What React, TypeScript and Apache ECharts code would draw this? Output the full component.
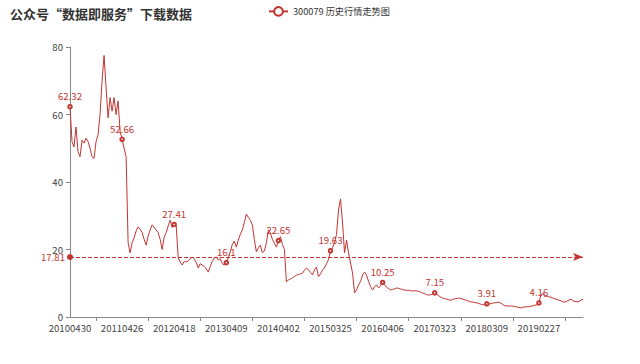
import React, { useEffect, useRef } from "react";
import * as echarts from "echarts";

const titleText = "公众号“数据即服务”下载数据";
const seriesName = "300079 历史行情走势图";
const tickLabels = [
  "20100430", "20110426", "20120418", "20130409", "20140402",
  "20150325", "20160406", "20170323", "20180309", "20190227",
];
const pointsPerLabel = 26;
const averageValue = 17.81;

const prices2010 = [62.32, 52, 50.4, 56.3, 49, 47.5, 52.4, 51.5, 53, 52, 50, 47.5, 47, 52, 54, 60, 70, 77.5, 68, 59, 65, 61, 65, 60, 64, 55];
const prices2011 = [52.66, 50, 47.5, 22, 19, 22, 23.5, 25.5, 26.7, 26, 25, 23, 21.3, 24, 25.8, 27.3, 26.5, 25.8, 25, 23, 20, 23.7, 25, 27, 28.7, 26.5];
const prices2012 = [27.41, 27, 17.5, 16.3, 15.4, 16.5, 16.3, 16.6, 17.2, 17.8, 17.2, 16.2, 14.5, 15.8, 15.4, 15, 14.2, 13.3, 15, 16.5, 17.5, 17.8, 16.9, 17.3, 15.8, 15.4];
const prices2013 = [16.1, 17.5, 19.3, 21.5, 22.5, 20.7, 22.8, 24.5, 25.8, 28, 30.5, 29.5, 28.7, 27.3, 23, 19.3, 20.5, 21.3, 19, 19.6, 22, 25.8, 24.9, 23, 21.9, 20.7];
const prices2014 = [22.65, 23.8, 21.5, 20, 10.4, 11, 11.3, 11.6, 12, 12.4, 12.6, 12.8, 13, 13.8, 14.5, 14, 13.2, 12.5, 14, 14.8, 12, 12.8, 13.9, 14.5, 15.8, 17];
const prices2015 = [19.63, 20.5, 22, 24.5, 31.7, 35, 27.9, 19, 22.8, 19, 16, 13, 7.2, 8, 9.5, 10.5, 12.5, 13.3, 12.4, 10.5, 9, 8, 9, 9.5, 8.6, 9.3];
const prices2016 = [10.25, 9.5, 8.8, 8.4, 8, 8.2, 8.3, 8.6, 8.5, 8.3, 8.1, 8, 7.9, 7.9, 7.8, 7.7, 7.8, 7.7, 7.6, 7.4, 7.1, 6.9, 6.6, 6.5, 6.6, 6.8];
const prices2017 = [7.15, 6.8, 6.3, 5.9, 5.6, 5.4, 5.3, 5.1, 5, 5.2, 5.4, 5.5, 5.6, 5.5, 5.3, 5.1, 4.9, 4.7, 4.5, 4.4, 4.3, 4.2, 4, 3.8, 3.6, 3.7];
const prices2018 = [3.91, 3.8, 4, 4.1, 4.2, 4.3, 4.4, 4.1, 3.7, 3.3, 3.3, 3.2, 3.3, 3.2, 3.1, 3, 2.8, 2.7, 2.9, 3, 3, 3.1, 3.2, 3.3, 3.5, 3.6];
const prices2019 = [4.16, 6.5, 7, 6, 6.2, 5.9, 5.9, 5.6, 5.4, 5.2, 5, 4.8, 4.5, 4.4, 4.7, 5, 5.3, 4.8, 4.6, 4.5, 4.6, 5, 5.3];

const prices = [
  ...prices2010, ...prices2011, ...prices2012, ...prices2013, ...prices2014,
  ...prices2015, ...prices2016, ...prices2017, ...prices2018, ...prices2019,
];

// category names: the labelled dates, with sampled dates in between (hidden labels)
function buildCategories(): string[] {
  const out: string[] = [];
  for (let i = 0; i < prices.length; i++) {
    const seg = Math.min(Math.floor(i / pointsPerLabel), tickLabels.length - 1);
    const j = i - seg * pointsPerLabel;
    const s = tickLabels[seg];
    const d = new Date(Date.UTC(+s.slice(0, 4), +s.slice(4, 6) - 1, +s.slice(6, 8)));
    d.setUTCDate(d.getUTCDate() + j * 14);
    const y = d.getUTCFullYear();
    const m = String(d.getUTCMonth() + 1).padStart(2, "0");
    const dd = String(d.getUTCDate()).padStart(2, "0");
    out.push(j === 0 ? s : `${y}${m}${dd}`);
  }
  return out;
}
const categories = buildCategories();
const labelIndexSet = new Set(tickLabels.map((_, i) => i * pointsPerLabel));

const RED = "#c23531";
const FONT = "'Noto Sans CJK SC', 'Noto Sans', sans-serif";

export default function App() {
  const ref = useRef<HTMLDivElement>(null);
  useEffect(() => {
    document.body.style.margin = "0";
    if (!ref.current) return;
    const chart = echarts.init(ref.current, undefined, { renderer: "svg" });
    chart.setOption({
      animation: false,
      color: [RED],
      textStyle: { fontFamily: FONT },
      title: {
        text: titleText,
        left: 10,
        top: 7,
        padding: 0,
        textStyle: { fontSize: 13, fontWeight: "bold", color: "#333", fontFamily: FONT },
      },
      legend: {
        data: [seriesName],
        left: 268,
        top: 6,
        padding: 0,
        itemWidth: 19,
        itemHeight: 11,
        itemGap: 8,
        textStyle: { fontSize: 9.2, color: "#333", fontFamily: FONT },
      },
      grid: { left: 70, right: 57, top: 47, bottom: 47, containLabel: false },
      xAxis: {
        type: "category",
        data: categories,
        boundaryGap: false,
        axisLine: { lineStyle: { color: "#888", width: 1 } },
        axisTick: {
          length: 4,
          interval: (index: number) => index % pointsPerLabel === pointsPerLabel / 2,
          lineStyle: { color: "#888" },
        },
        axisLabel: {
          interval: (index: number) => labelIndexSet.has(index),
          fontSize: 9.6,
          color: "#444",
          margin: 6,
          hideOverlap: false,
          fontFamily: FONT,
        },
        splitLine: { show: false },
      },
      yAxis: {
        type: "value",
        min: 0,
        max: 80,
        interval: 20,
        axisLine: { show: true, lineStyle: { color: "#888", width: 1 } },
        axisTick: { show: true, length: 4, lineStyle: { color: "#888" } },
        axisLabel: { fontSize: 9.6, color: "#444", margin: 7, fontFamily: FONT },
        splitLine: { show: false },
      },
      series: [
        {
          name: seriesName,
          type: "line",
          data: prices,
          symbol: "emptyCircle",
          symbolSize: 3.5,
          showAllSymbol: "auto",
          lineStyle: { width: 1, color: RED },
          itemStyle: { color: RED, borderWidth: 1 },
          label: { show: true, position: "top", fontSize: 9.6, color: RED, distance: 3, fontFamily: FONT },
          markLine: {
            silent: true,
            symbol: ["circle", "arrow"],
            symbolSize: [6, 10],
            lineStyle: { type: "dashed", width: 1, color: RED },
            label: { show: true, position: "start", fontSize: 9.6, color: RED, fontFamily: FONT, formatter: "{c}" },
            data: [{ yAxis: averageValue, name: "平均值" }],
          },
        },
      ],
    });
    return () => chart.dispose();
  }, []);
  return <div ref={ref} style={{ width: 640, height: 364 }} />;
}
